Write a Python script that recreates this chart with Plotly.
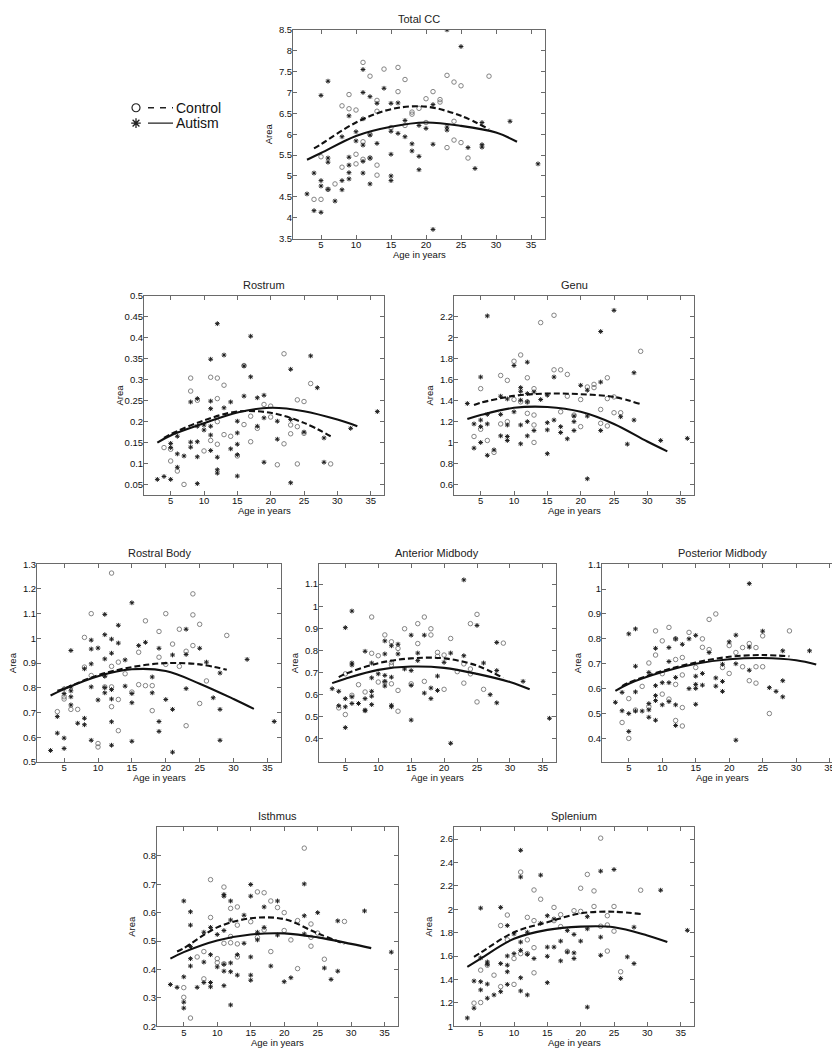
import plotly.graph_objects as go

W, H = 840, 1050
FONT = "Arial, Liberation Sans, sans-serif"

fit_age_autism = [3, 5, 10, 15, 20, 25, 30, 33]
fit_age_control = [4, 5, 10, 15, 20, 25, 29]

# ---- Total CC ----
total_control = [(4, 4.44), (5, 5.46), (5, 4.44), (6, 4.68), (7, 4.81), (8, 6.68), (8, 5.21), (9, 6.95),
                 (9, 6.61), (10, 6.58), (10, 5.52), (10, 5.29), (11, 7.72), (11, 5.82), (11, 5.4), (12, 7.39),
                 (12, 6.0), (12, 5.43), (13, 6.81), (13, 6.55), (13, 5.26), (13, 5.02), (14, 7.56), (15, 6.16),
                 (16, 7.6), (16, 7.02), (17, 7.31), (17, 6.21), (18, 6.53), (18, 6.48), (19, 6.62), (20, 6.85),
                 (20, 6.28), (21, 7.02), (22, 6.83), (22, 6.77), (23, 7.41), (23, 5.68), (24, 7.25), (24, 6.31),
                 (24, 5.86), (25, 7.16), (25, 5.8), (26, 5.43), (29, 7.39)]
total_autism = [(3, 4.57), (4, 5.07), (4, 4.17), (5, 6.93), (5, 4.89), (5, 4.76), (5, 4.13), (6, 7.27),
                (6, 5.43), (6, 5.33), (6, 4.68), (7, 4.40), (8, 5.94), (8, 4.89), (8, 4.67), (9, 6.44),
                (9, 5.45), (9, 5.26), (9, 5.08), (9, 4.93), (10, 6.06), (10, 5.84), (11, 7.55), (11, 7.0),
                (11, 6.37), (11, 5.74), (11, 5.35), (11, 5.07), (12, 6.9), (12, 5.98), (12, 5.43), (12, 4.81),
                (13, 6.74), (13, 5.78), (14, 7.1), (15, 6.74), (15, 6.07), (15, 5.52), (15, 5.0), (15, 4.89),
                (16, 6.75), (16, 6.02), (17, 6.33), (17, 5.94), (18, 5.77), (18, 5.6), (19, 6.21), (19, 5.47),
                (19, 5.15), (20, 6.14), (21, 6.71), (21, 5.76), (21, 3.72), (23, 8.5), (23, 6.17), (23, 6.1),
                (25, 8.1), (26, 5.68), (27, 5.18), (28, 6.28), (28, 5.75), (28, 5.69), (32, 6.31), (36, 5.29)]
total_fit_autism = [5.39, 5.55, 5.96, 6.18, 6.28, 6.2, 6.04, 5.82]
total_fit_control = [5.66, 5.76, 6.28, 6.6, 6.66, 6.44, 6.12]

# ---- Rostrum ----
rostrum_control = [(4, 0.138), (5, 0.134), (5, 0.106), (6, 0.082), (7, 0.05), (8, 0.304), (8, 0.273),
                   (9, 0.251), (10, 0.13), (11, 0.306), (11, 0.155), (12, 0.304), (12, 0.255), (12, 0.2),
                   (12, 0.146), (13, 0.287), (13, 0.169), (14, 0.165), (15, 0.118), (16, 0.334), (16, 0.193),
                   (17, 0.213), (17, 0.152), (18, 0.184), (19, 0.241), (20, 0.237), (20, 0.211), (21, 0.097),
                   (22, 0.362), (22, 0.147), (23, 0.192), (23, 0.171), (24, 0.252), (24, 0.188), (24, 0.099),
                   (25, 0.248), (25, 0.172), (26, 0.291), (29, 0.099)]
rostrum_autism = [(3, 0.062), (4, 0.069), (5, 0.062), (5, 0.148), (5, 0.138), (6, 0.165), (6, 0.123),
                  (6, 0.091), (7, 0.118), (8, 0.247), (8, 0.151), (8, 0.139), (9, 0.255), (9, 0.189),
                  (9, 0.152), (9, 0.116), (9, 0.052), (10, 0.192), (10, 0.18), (11, 0.349), (11, 0.249),
                  (11, 0.231), (11, 0.189), (11, 0.168), (11, 0.131), (12, 0.434), (12, 0.115), (12, 0.085),
                  (12, 0.077), (13, 0.359), (13, 0.233), (14, 0.247), (14, 0.135), (15, 0.201), (15, 0.173),
                  (15, 0.146), (15, 0.121), (15, 0.07), (16, 0.333), (16, 0.261), (17, 0.404), (17, 0.307),
                  (18, 0.257), (18, 0.189), (19, 0.263), (19, 0.209), (19, 0.103), (21, 0.201), (21, 0.158),
                  (23, 0.325), (23, 0.205), (23, 0.054), (25, 0.175), (26, 0.357), (27, 0.281), (28, 0.161),
                  (28, 0.103), (32, 0.184), (36, 0.224)]
rostrum_fit_autism = [0.15, 0.167, 0.196, 0.222, 0.233, 0.225, 0.205, 0.189]
rostrum_fit_control = [0.161, 0.17, 0.203, 0.224, 0.221, 0.197, 0.165]

# ---- Genu ----
genu_control = [(4, 1.058), (5, 1.515), (5, 1.127), (6, 1.02), (7, 0.906), (8, 1.641), (8, 1.178),
                (9, 1.594), (9, 1.2), (10, 1.777), (10, 1.411), (11, 1.837), (11, 1.389), (12, 1.619),
                (12, 1.389), (12, 1.279), (13, 1.515), (13, 1.263), (13, 1.168), (13, 1.001), (14, 2.146),
                (16, 2.216), (16, 1.695), (17, 1.695), (17, 1.294), (18, 1.651), (18, 1.443), (19, 1.263),
                (20, 1.411), (20, 1.152), (21, 1.531), (22, 1.556), (22, 1.525), (23, 1.316), (23, 1.184),
                (24, 1.619), (24, 1.42), (24, 1.159), (25, 1.436), (25, 1.285), (26, 1.285), (29, 1.872)]
genu_autism = [(3, 1.373), (4, 1.178), (4, 0.947), (5, 1.626), (5, 1.215), (5, 1.152), (5, 1.001),
               (6, 2.21), (6, 1.269), (6, 1.178), (6, 0.878), (7, 0.93), (8, 1.443), (8, 1.269), (8, 1.064),
               (9, 1.417), (9, 1.168), (9, 1.058), (9, 1.02), (10, 1.736), (10, 1.294), (11, 1.525),
               (11, 1.49), (11, 1.405), (11, 1.168), (11, 0.988), (12, 1.768), (12, 1.468), (12, 1.389),
               (12, 1.2), (12, 1.064), (13, 1.484), (13, 1.115), (14, 1.411), (15, 1.452), (15, 1.19),
               (15, 1.121), (15, 0.894), (16, 1.626), (16, 1.215), (17, 1.152), (17, 1.096), (18, 1.036),
               (19, 1.253), (19, 1.2), (19, 1.115), (20, 1.547), (21, 1.5), (21, 1.253), (21, 0.654),
               (23, 2.061), (23, 1.578), (23, 1.115), (25, 2.263), (26, 1.247), (27, 0.985), (28, 1.667),
               (28, 1.215), (32, 1.02), (36, 1.04)]
genu_fit_autism = [1.225, 1.263, 1.332, 1.34, 1.294, 1.178, 1.01, 0.916]
genu_fit_control = [1.358, 1.38, 1.446, 1.468, 1.462, 1.436, 1.367]

# ---- Rostral Body ----
rbody_control = [(4, 0.704), (5, 0.764), (5, 0.755), (6, 0.713), (7, 0.713), (8, 1.004), (8, 0.884),
                 (9, 1.1), (9, 0.85), (10, 0.575), (10, 0.561), (11, 0.851), (11, 0.804), (12, 1.264),
                 (12, 0.887), (12, 0.804), (12, 0.724), (13, 0.904), (13, 0.753), (13, 0.627), (14, 0.857),
                 (15, 0.783), (16, 0.944), (16, 0.813), (17, 1.071), (17, 0.809), (18, 0.809), (18, 0.708),
                 (19, 1.028), (19, 0.924), (20, 1.1), (20, 0.895), (21, 0.977), (22, 1.037), (22, 0.887),
                 (23, 0.948), (23, 0.647), (24, 1.18), (24, 1.095), (24, 0.971), (25, 1.057), (25, 0.737),
                 (26, 0.828), (29, 1.012)]
rbody_autism = [(3, 0.547), (4, 0.684), (4, 0.617), (5, 0.797), (5, 0.777), (5, 0.597), (5, 0.555),
                (6, 0.951), (6, 0.804), (6, 0.788), (6, 0.764), (6, 0.731), (7, 0.657), (8, 0.877),
                (8, 0.677), (8, 0.651), (9, 0.993), (9, 0.957), (9, 0.897), (9, 0.804), (9, 0.588),
                (10, 0.961), (10, 0.751), (11, 1.097), (11, 1.015), (11, 0.917), (11, 0.847), (11, 0.801),
                (11, 0.78), (12, 0.997), (12, 0.94), (12, 0.793), (12, 0.755), (12, 0.663), (12, 0.568),
                (13, 1.053), (13, 0.981), (14, 0.913), (14, 0.807), (15, 1.144), (15, 0.777), (15, 0.74),
                (15, 0.584), (16, 0.971), (17, 0.984), (18, 0.844), (18, 0.78), (19, 0.96), (19, 0.664),
                (19, 0.624), (20, 0.753), (21, 0.933), (21, 0.713), (21, 0.54), (23, 1.037), (23, 0.935),
                (23, 0.797), (25, 0.96), (26, 0.904), (27, 0.76), (28, 0.86), (28, 0.713), (28, 0.588),
                (32, 0.915), (36, 0.664)]
rbody_fit_autism = [0.769, 0.795, 0.847, 0.875, 0.868, 0.817, 0.755, 0.715]
rbody_fit_control = [0.788, 0.797, 0.851, 0.884, 0.9, 0.895, 0.873]

# ---- Anterior Midbody ----
amid_control = [(4, 0.54), (5, 0.694), (5, 0.51), (6, 0.597), (7, 0.645), (8, 0.612), (9, 0.951),
                (9, 0.787), (10, 0.776), (10, 0.657), (11, 0.87), (11, 0.657), (12, 0.839), (12, 0.746),
                (12, 0.734), (12, 0.649), (13, 0.809), (13, 0.619), (13, 0.525), (14, 0.898), (15, 0.649),
                (16, 0.921), (16, 0.831), (17, 0.951), (17, 0.66), (18, 0.898), (18, 0.87), (19, 0.791),
                (19, 0.773), (20, 0.779), (20, 0.624), (21, 0.854), (22, 0.704), (23, 0.739), (23, 0.652),
                (24, 0.921), (24, 0.716), (24, 0.694), (25, 0.963), (25, 0.567), (26, 0.624), (29, 0.833)]
amid_autism = [(3, 0.627), (4, 0.615), (4, 0.55), (5, 0.903), (5, 0.582), (5, 0.545), (5, 0.451),
               (6, 0.978), (6, 0.743), (6, 0.734), (6, 0.59), (6, 0.56), (7, 0.56), (8, 0.796), (8, 0.582),
               (8, 0.53), (8, 0.527), (9, 0.743), (9, 0.676), (9, 0.615), (9, 0.593), (9, 0.555),
               (10, 0.694), (11, 0.843), (11, 0.784), (11, 0.687), (11, 0.66), (11, 0.639), (12, 0.821),
               (12, 0.679), (12, 0.552), (12, 0.545), (13, 0.828), (13, 0.784), (14, 0.716), (15, 0.869),
               (15, 0.709), (15, 0.642), (15, 0.485), (16, 0.788), (16, 0.754), (17, 0.869), (17, 0.607),
               (18, 0.63), (18, 0.582), (19, 0.684), (19, 0.619), (20, 0.746), (21, 0.788), (21, 0.38),
               (23, 1.119), (23, 0.776), (25, 0.913), (26, 0.743), (27, 0.6), (28, 0.836), (28, 0.709),
               (28, 0.563), (32, 0.66), (36, 0.493)]
amid_fit_autism = [0.652, 0.672, 0.712, 0.727, 0.721, 0.694, 0.657, 0.624]
amid_fit_control = [0.679, 0.694, 0.742, 0.764, 0.764, 0.731, 0.675]

# ---- Posterior Midbody ----
pmid_control = [(4, 0.464), (5, 0.56), (5, 0.4), (6, 0.514), (7, 0.609), (8, 0.703), (8, 0.527),
                (9, 0.832), (9, 0.735), (10, 0.792), (10, 0.66), (10, 0.578), (11, 0.846), (11, 0.558),
                (12, 0.8), (12, 0.717), (12, 0.617), (12, 0.472), (13, 0.725), (13, 0.655), (13, 0.524),
                (13, 0.45), (14, 0.826), (15, 0.685), (16, 0.8), (16, 0.766), (17, 0.878), (17, 0.757),
                (18, 0.9), (19, 0.685), (20, 0.773), (20, 0.661), (21, 0.745), (22, 0.765), (22, 0.688),
                (23, 0.781), (23, 0.632), (24, 0.765), (24, 0.688), (24, 0.622), (25, 0.812), (25, 0.688),
                (26, 0.5), (29, 0.832)]
pmid_autism = [(3, 0.545), (4, 0.585), (4, 0.511), (5, 0.82), (5, 0.5), (5, 0.428), (6, 0.84),
               (6, 0.69), (6, 0.587), (6, 0.51), (7, 0.51), (8, 0.665), (8, 0.54), (8, 0.515), (8, 0.485),
               (9, 0.762), (9, 0.612), (9, 0.572), (9, 0.552), (9, 0.473), (10, 0.624), (10, 0.535),
               (11, 0.765), (11, 0.709), (11, 0.624), (11, 0.548), (12, 0.8), (12, 0.645), (12, 0.535),
               (12, 0.452), (13, 0.778), (14, 0.8), (14, 0.6), (15, 0.814), (15, 0.65), (15, 0.617),
               (15, 0.601), (15, 0.537), (16, 0.661), (16, 0.614), (17, 0.745), (18, 0.643), (18, 0.61),
               (19, 0.698), (19, 0.629), (19, 0.589), (20, 0.788), (21, 0.815), (21, 0.7), (21, 0.393),
               (23, 1.022), (23, 0.767), (23, 0.674), (25, 0.831), (26, 0.604), (27, 0.589), (28, 0.752),
               (28, 0.632), (28, 0.567), (32, 0.752), (36, 0.631)]
pmid_fit_autism = [0.591, 0.62, 0.667, 0.7, 0.718, 0.723, 0.714, 0.697]
pmid_fit_control = [0.61, 0.624, 0.671, 0.705, 0.728, 0.735, 0.73]

# ---- Isthmus ----
isthmus_control = [(5, 0.336), (5, 0.302), (6, 0.229), (7, 0.444), (8, 0.463), (8, 0.367), (9, 0.716),
                   (9, 0.583), (10, 0.438), (10, 0.424), (11, 0.69), (11, 0.492), (11, 0.42), (12, 0.615),
                   (12, 0.516), (12, 0.494), (13, 0.62), (13, 0.556), (13, 0.49), (13, 0.444), (15, 0.568),
                   (16, 0.673), (16, 0.513), (17, 0.67), (17, 0.539), (18, 0.641), (18, 0.463), (19, 0.618),
                   (20, 0.6), (20, 0.537), (21, 0.504), (22, 0.572), (22, 0.403), (23, 0.827), (24, 0.56),
                   (24, 0.513), (24, 0.482), (25, 0.528), (26, 0.436), (29, 0.569)]
isthmus_autism = [(3, 0.347), (4, 0.337), (5, 0.641), (5, 0.374), (5, 0.285), (5, 0.264), (6, 0.603),
                  (6, 0.556), (6, 0.481), (6, 0.438), (6, 0.412), (7, 0.337), (8, 0.531), (8, 0.426),
                  (8, 0.354), (9, 0.548), (9, 0.452), (9, 0.354), (9, 0.339), (10, 0.523), (10, 0.409),
                  (11, 0.664), (11, 0.658), (11, 0.537), (11, 0.418), (11, 0.394), (11, 0.343), (12, 0.641),
                  (12, 0.574), (12, 0.423), (12, 0.392), (12, 0.275), (13, 0.452), (13, 0.38), (14, 0.591),
                  (14, 0.492), (15, 0.699), (15, 0.658), (15, 0.444), (15, 0.38), (15, 0.362), (16, 0.531),
                  (16, 0.504), (17, 0.62), (17, 0.548), (18, 0.412), (19, 0.641), (19, 0.521), (20, 0.357),
                  (21, 0.371), (23, 0.701), (23, 0.589), (23, 0.525), (25, 0.6), (26, 0.405), (27, 0.365),
                  (28, 0.571), (28, 0.394), (32, 0.606), (36, 0.461)]
isthmus_fit_autism = [0.438, 0.461, 0.502, 0.523, 0.527, 0.513, 0.49, 0.475]
isthmus_fit_control = [0.463, 0.475, 0.548, 0.58, 0.577, 0.527, 0.49]

# ---- Splenium ----
splenium_control = [(4, 1.198), (5, 1.48), (5, 1.203), (6, 1.522), (7, 1.437), (8, 1.861), (8, 1.339),
                    (9, 1.951), (9, 1.739), (10, 1.579), (10, 1.358), (11, 2.318), (11, 1.621), (12, 1.931),
                    (12, 1.739), (12, 1.621), (13, 2.165), (13, 1.903), (13, 1.672), (13, 1.457), (14, 2.086),
                    (16, 2.016), (16, 1.903), (17, 1.954), (17, 1.852), (18, 1.641), (19, 1.988), (20, 2.18),
                    (20, 1.982), (21, 2.298), (22, 2.157), (22, 2.024), (23, 2.608), (23, 1.855), (24, 1.945),
                    (24, 1.866), (24, 1.643), (25, 2.024), (25, 1.813), (26, 1.466), (29, 2.163)]
splenium_autism = [(3, 1.071), (4, 1.387), (4, 1.155), (5, 2.01), (5, 1.584), (5, 1.381), (5, 1.311),
                   (6, 1.55), (6, 1.53), (6, 1.361), (6, 1.24), (7, 1.268), (8, 2.016), (8, 1.536),
                   (8, 1.296), (9, 1.861), (9, 1.601), (9, 1.522), (9, 1.466), (9, 1.358), (10, 1.79),
                   (10, 1.621), (11, 2.504), (11, 2.276), (11, 1.72), (11, 1.649), (11, 1.415), (11, 1.302),
                   (12, 1.804), (12, 1.615), (12, 1.268), (13, 1.579), (14, 2.292), (14, 1.88), (15, 1.945),
                   (15, 1.677), (15, 1.598), (15, 1.373), (16, 1.917), (16, 1.677), (17, 1.728), (17, 1.559),
                   (18, 1.818), (18, 1.635), (19, 1.785), (19, 1.627), (19, 1.579), (20, 1.728), (21, 1.937),
                   (21, 1.833), (21, 1.164), (23, 2.326), (23, 1.762), (23, 1.607), (25, 2.34), (26, 1.409),
                   (27, 1.593), (28, 1.847), (28, 1.536), (32, 2.163), (36, 1.82)]
splenium_fit_autism = [1.508, 1.579, 1.748, 1.824, 1.852, 1.847, 1.776, 1.72]
splenium_fit_control = [1.593, 1.629, 1.804, 1.889, 1.965, 1.979, 1.959]

age_ticks = [5, 10, 15, 20, 25, 30, 35]

# (title, box in px: left, top, right, bottom, y range, y ticks, series...)
panels = [
    ("Total CC", (285, 16, 537, 227), [3.5, 8.5], [3.5, 4, 4.5, 5, 5.5, 6, 6.5, 7, 7.5, 8, 8.5],
     total_control, total_autism, total_fit_control, total_fit_autism),
    ("Rostrum", (136, 285, 376, 486), [0.025, 0.5],
     [0.05, 0.1, 0.15, 0.2, 0.25, 0.3, 0.35, 0.4, 0.45, 0.5],
     rostrum_control, rostrum_autism, rostrum_fit_control, rostrum_fit_autism),
    ("Genu", (446, 285, 686, 486), [0.5, 2.4], [0.6, 0.8, 1, 1.2, 1.4, 1.6, 1.8, 2, 2.2],
     genu_control, genu_autism, genu_fit_control, genu_fit_autism),
    ("Rostral Body", (29, 556, 273, 756), [0.5, 1.3], [0.5, 0.6, 0.7, 0.8, 0.9, 1, 1.1, 1.2, 1.3],
     rbody_control, rbody_autism, rbody_fit_control, rbody_fit_autism),
    ("Anterior Midbody", (311, 556, 548, 756), [0.295, 1.19], [0.4, 0.5, 0.6, 0.7, 0.8, 0.9, 1, 1.1],
     amid_control, amid_autism, amid_fit_control, amid_fit_autism),
    ("Posterior Midbody", (594, 556, 835, 756), [0.305, 1.1], [0.4, 0.5, 0.6, 0.7, 0.8, 0.9, 1, 1.1],
     pmid_control, pmid_autism, pmid_fit_control, pmid_fit_autism),
    ("Isthmus", (149, 822, 390, 1023), [0.2, 0.9], [0.2, 0.3, 0.4, 0.5, 0.6, 0.7, 0.8],
     isthmus_control, isthmus_autism, isthmus_fit_control, isthmus_fit_autism),
    ("Splenium", (446, 822, 686, 1023), [1, 2.7], [1, 1.2, 1.4, 1.6, 1.8, 2, 2.2, 2.4, 2.6],
     splenium_control, splenium_autism, splenium_fit_control, splenium_fit_autism),
]

AXIS_COLOR = "#6a6a6a"


def px_x(px):
    return px / W


def px_y(py):
    return 1 - py / H


fig = go.Figure()
annotations = []
layout = {}

for i, (title, box, yrange, yticks, ctrl, aut, fit_c, fit_a) in enumerate(panels, start=1):
    left, top, right, bottom = box
    xa, ya = f"x{i}", f"y{i}"
    common = dict(
        showline=True, linecolor=AXIS_COLOR, linewidth=1, mirror="ticks",
        ticks="inside", ticklen=4, tickcolor=AXIS_COLOR, showgrid=False, zeroline=False,
        tickfont=dict(family=FONT, size=9.5, color="#111"),
    )
    layout[f"xaxis{i}"] = dict(
        domain=[px_x(left), px_x(right)], anchor=ya, range=[1, 37],
        tickvals=age_ticks, ticktext=[str(t) for t in age_ticks], ticklabelstandoff=-3, **common,
    )
    layout[f"yaxis{i}"] = dict(
        domain=[px_y(bottom), px_y(top)], anchor=xa, range=yrange,
        tickvals=yticks, ticktext=[f"{t:g}" for t in yticks], ticklabelstandoff=-2, **common,
    )

    fig.add_trace(go.Scatter(
        x=[a for a, _ in ctrl], y=[v for _, v in ctrl], xaxis=xa, yaxis=ya, mode="markers",
        marker=dict(symbol="circle-open", size=4.5, color="#767676", line=dict(width=0.9)),
        showlegend=False, hoverinfo="skip",
    ))
    fig.add_trace(go.Scatter(
        x=[a for a, _ in aut], y=[v for _, v in aut], xaxis=xa, yaxis=ya, mode="markers",
        marker=dict(symbol="asterisk-open", size=4, color="#1e1e1e", line=dict(width=1)),
        showlegend=False, hoverinfo="skip",
    ))
    fig.add_trace(go.Scatter(
        x=fit_age_control, y=fit_c, xaxis=xa, yaxis=ya, mode="lines",
        line=dict(color="#111", width=2.1, dash="6px,3px", shape="spline", smoothing=1.0),
        showlegend=False, hoverinfo="skip",
    ))
    fig.add_trace(go.Scatter(
        x=fit_age_autism, y=fit_a, xaxis=xa, yaxis=ya, mode="lines",
        line=dict(color="#111", width=2.1, shape="spline", smoothing=1.0),
        showlegend=False, hoverinfo="skip",
    ))

    cx = (left + right) / 2
    annotations.append(dict(
        text=title, x=px_x(cx), y=px_y(top - 3), xref="paper", yref="paper",
        xanchor="center", yanchor="bottom", showarrow=False,
        font=dict(family=FONT, size=11, color="#222", weight="normal"),
    ))
    annotations.append(dict(
        text="Age in years", x=px_x(cx), y=px_y(bottom + 16), xref="paper", yref="paper",
        xanchor="center", yanchor="middle", showarrow=False,
        font=dict(family=FONT, size=9.5, color="#111"),
    ))
    annotations.append(dict(
        text="Area", x=px_x(left - 25), y=px_y((top + bottom) / 2), xref="paper", yref="paper",
        xanchor="center", yanchor="middle", showarrow=False, textangle=-90,
        font=dict(family=FONT, size=9.5, color="#111"),
    ))

# hand-made legend box (marker, line sample, label)
layout["xaxis9"] = dict(domain=[px_x(120), px_x(170)], range=[0, 1], visible=False, anchor="y9")
layout["yaxis9"] = dict(domain=[px_y(118), px_y(87)], range=[0, 1], visible=False, anchor="x9")
fig.add_trace(go.Scatter(x=[0.16], y=[0.75], xaxis="x9", yaxis="y9", mode="markers",
                         marker=dict(symbol="circle-open", size=8, color="#222", line=dict(width=1.2)),
                         showlegend=False, hoverinfo="skip"))
fig.add_trace(go.Scatter(x=[0.16], y=[0.25], xaxis="x9", yaxis="y9", mode="markers",
                         marker=dict(symbol="asterisk-open", size=8, color="#222", line=dict(width=1.3)),
                         showlegend=False, hoverinfo="skip"))
fig.add_trace(go.Scatter(x=[0.4, 0.9], y=[0.75, 0.75], xaxis="x9", yaxis="y9", mode="lines",
                         line=dict(color="#222", width=1.4, dash="6px,6px"),
                         showlegend=False, hoverinfo="skip"))
fig.add_trace(go.Scatter(x=[0.4, 0.9], y=[0.25, 0.25], xaxis="x9", yaxis="y9", mode="lines",
                         line=dict(color="#222", width=1.4),
                         showlegend=False, hoverinfo="skip"))
for label, py in (("Control", 95), ("Autism", 110)):
    annotations.append(dict(
        text=label, x=px_x(166), y=px_y(py), xref="paper", yref="paper",
        xanchor="left", yanchor="middle", showarrow=False,
        font=dict(family=FONT, size=14, color="#111"),
    ))

fig.update_layout(
    width=W, height=H, margin=dict(l=0, r=0, t=0, b=0),
    paper_bgcolor="white", plot_bgcolor="white",
    annotations=annotations, showlegend=False, **layout,
)

fig.write_html("out.html")
